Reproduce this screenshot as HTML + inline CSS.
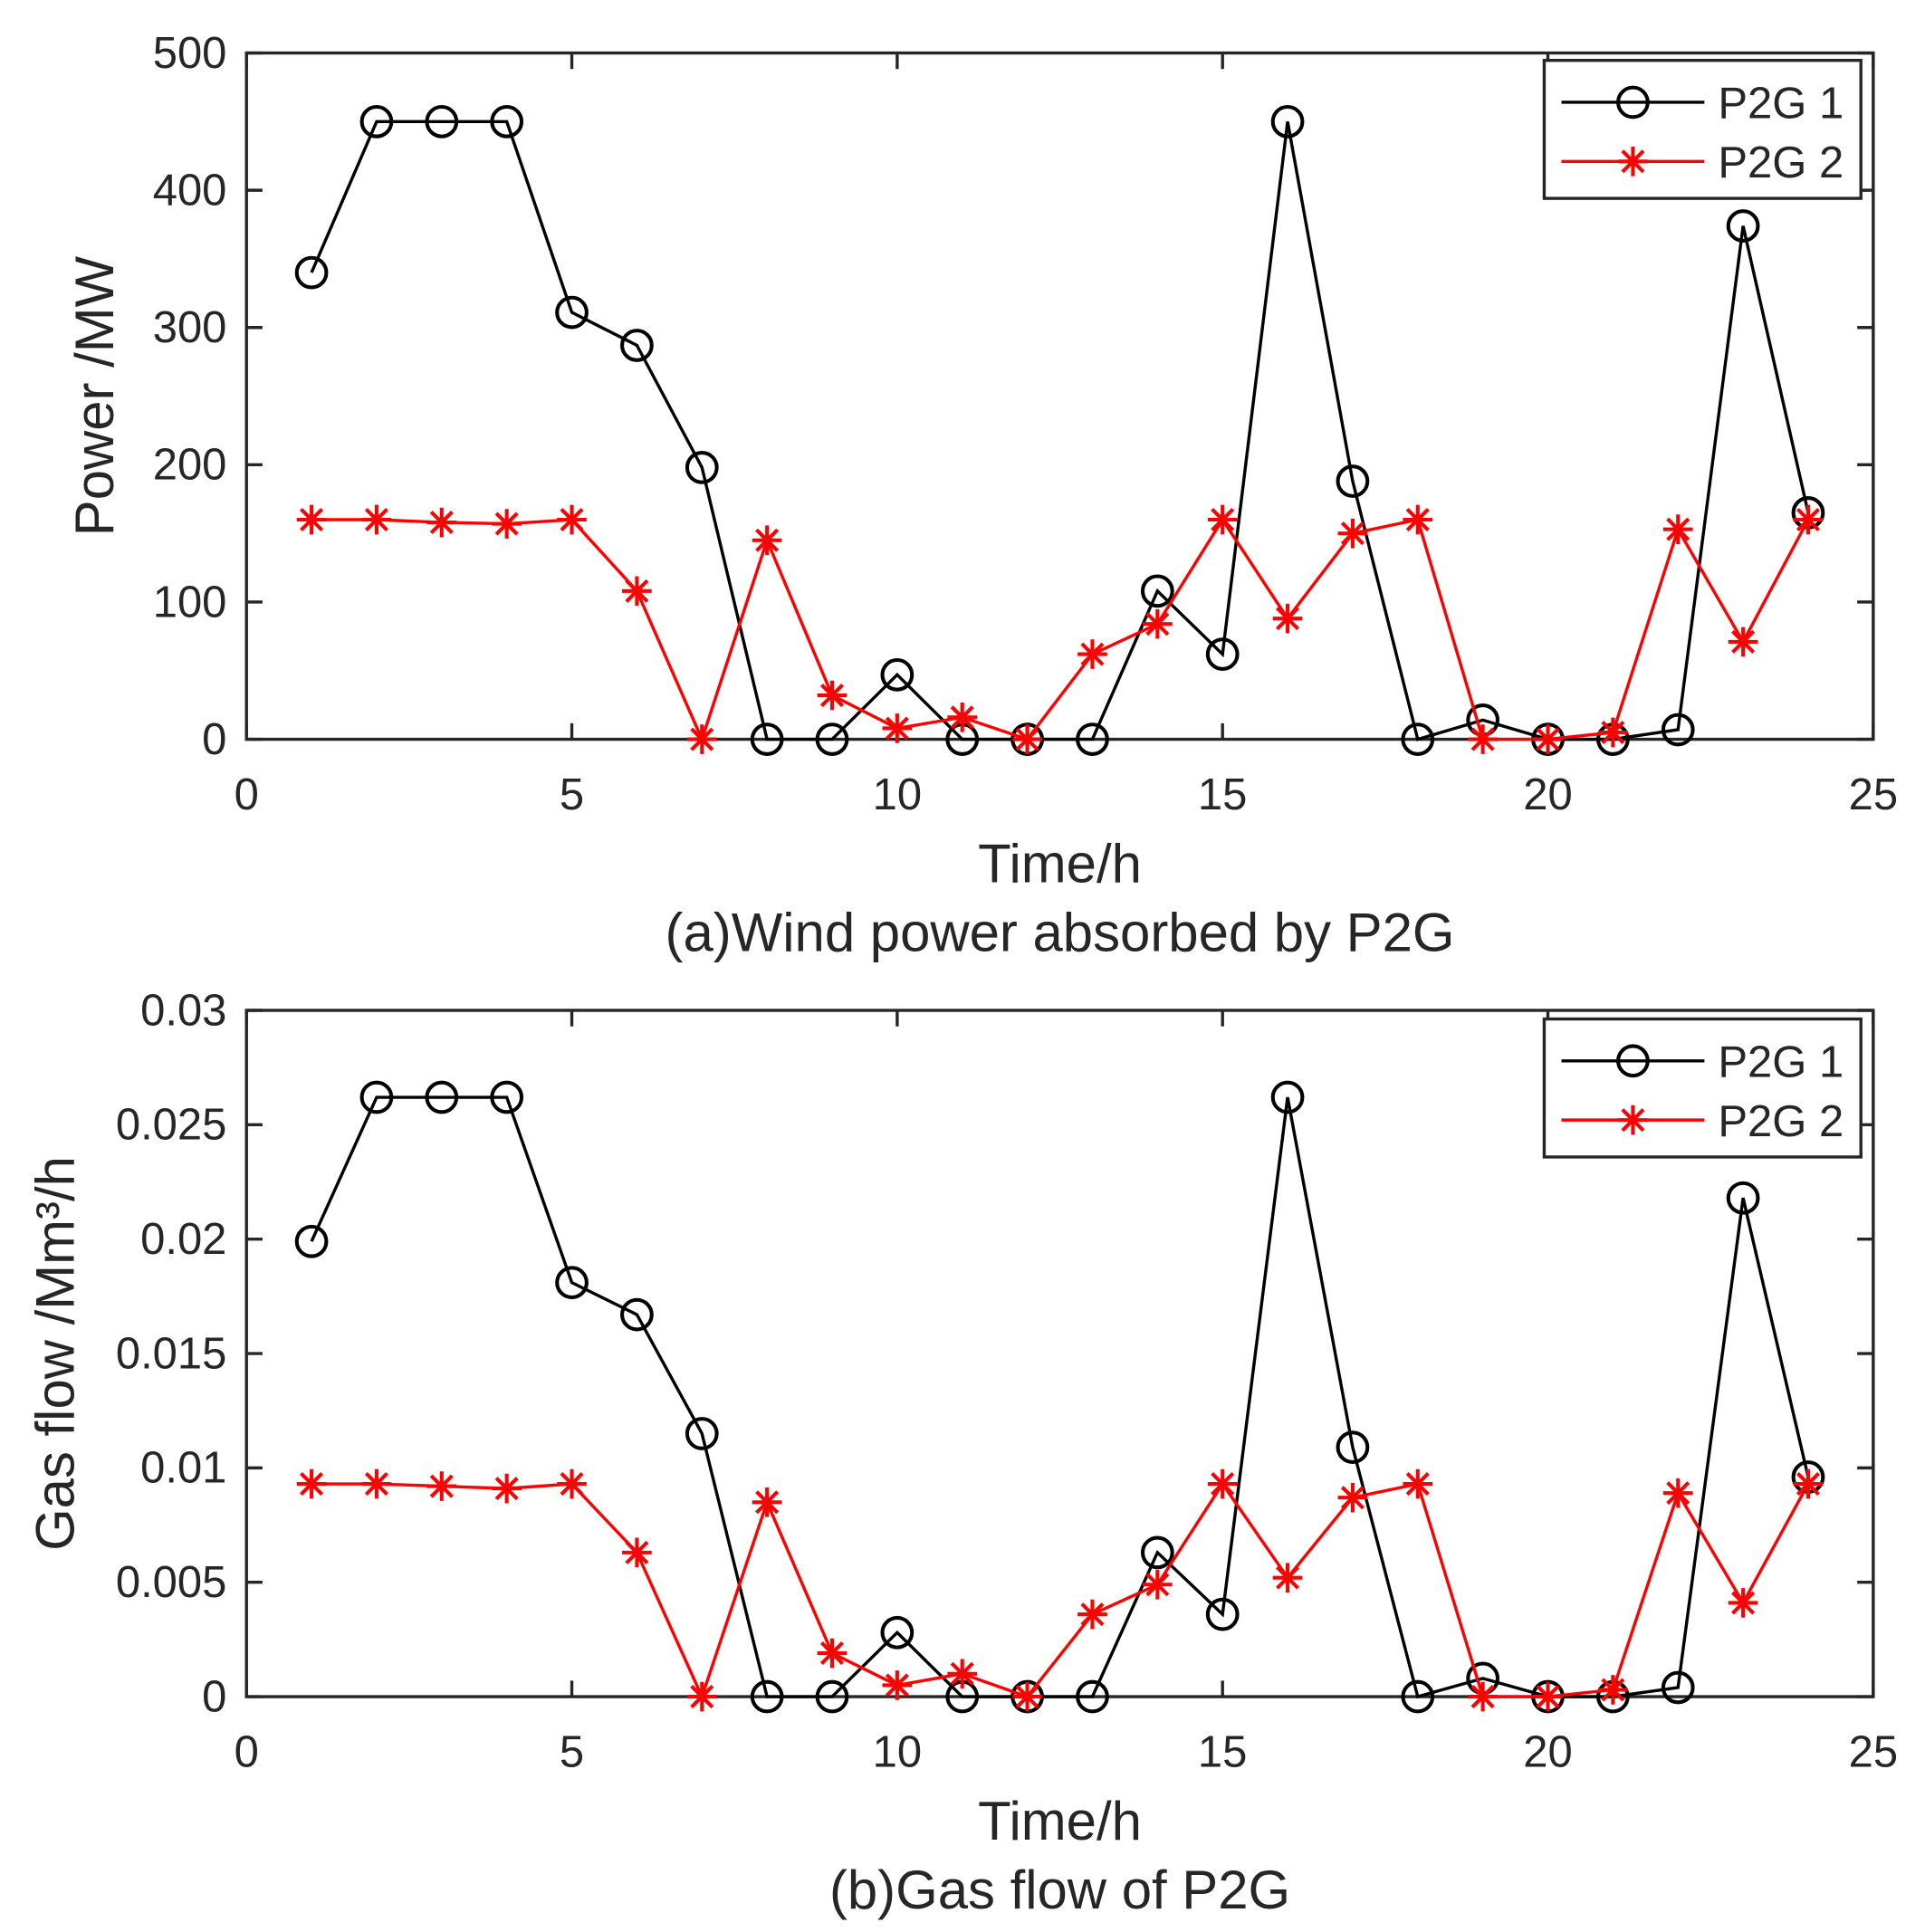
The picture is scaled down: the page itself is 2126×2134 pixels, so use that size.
<!DOCTYPE html>
<html><head><meta charset="utf-8">
<style>
html,body{margin:0;padding:0;background:#fff;}
svg{display:block;}
text{font-family:"Liberation Sans",sans-serif;fill:#262626;}
</style></head>
<body>
<svg id="fig" width="2126" height="2134" viewBox="0 0 1562 1568" preserveAspectRatio="none" xmlns="http://www.w3.org/2000/svg"></svg>
<script>
const hours = [1,2,3,4,5,6,7,8,9,10,11,12,13,14,15,16,17,18,19,20,21,22,23,24];
const p2g1Power = [340,450,450,450,311,287,198,0,0,47,0,0,0,108,62,450,188,0,14,0,0,7,374,165];
const p2g2Power = [160,160,158,157,160,108,0,145,32,8,16,0,62,84,160,88,150,160,0,0,5,153,71,160];
const p2g1Gas = [0.0199,0.0262,0.0262,0.0262,0.0181,0.0167,0.0115,0,0,0.0028,0,0,0,0.0063,0.0036,0.0262,0.0109,0,0.0008,0,0,0.0004,0.0218,0.0096];
const p2g2Gas = [0.0093,0.0093,0.0092,0.0091,0.0093,0.0063,0,0.0085,0.0019,0.0005,0.001,0,0.0036,0.0049,0.0093,0.0052,0.0087,0.0093,0,0,0.0003,0.0089,0.0041,0.0093];
const xTicks = [0,5,10,15,20,25];
const powerTicks = [0,100,200,300,400,500];
const gasTicks = [0,0.005,0.01,0.015,0.02,0.025,0.03];
const gasTickLabels = ["0","0.005","0.01","0.015","0.02","0.025","0.03"];
const seriesNames = ["P2G 1","P2G 2"];

const NS="http://www.w3.org/2000/svg";
const svg=document.getElementById('fig');
function mk(tag,attrs,parent){const e=document.createElementNS(NS,tag);for(const k in attrs)e.setAttribute(k,attrs[k]);(parent||svg).appendChild(e);return e;}

function panel(name,top,bottom,yMax,yTicks,yLabels,s1,s2,yTitle,caption,legTop,yTitleX){
  const L=200,R=1520;
  const g=mk('g',{});
  
  
  const xs=v=>L+(v/25)*(R-L);
  const ys=v=>bottom-(v/yMax)*(bottom-top);
  const frame=mk('rect',{x:L,y:top,width:R-L,height:bottom-top,fill:'none',stroke:'#262626','stroke-width':2.5},g);
  
  
  xTicks.forEach(t=>{
    const x=xs(t);
    mk('line',{x1:x,y1:bottom,x2:x,y2:bottom-13,stroke:'#262626','stroke-width':2.5},g);
    mk('line',{x1:x,y1:top,x2:x,y2:top+13,stroke:'#262626','stroke-width':2.5},g);
    const tx=mk('text',{x:x,y:bottom+57,'font-size':36,'text-anchor':'middle'},g);
    tx.textContent=t;
    
    
  });
  yTicks.forEach((t,i)=>{
    const y=ys(t);
    mk('line',{x1:L,y1:y,x2:L+13,y2:y,stroke:'#262626','stroke-width':2.5},g);
    mk('line',{x1:R,y1:y,x2:R-13,y2:y,stroke:'#262626','stroke-width':2.5},g);
    const tx=mk('text',{x:L-16,y:y+12,'font-size':36,'text-anchor':'end'},g);
    tx.textContent=yLabels[i];
    
    
  });
  const xt=mk('text',{x:860,y:bottom+116,'font-size':44,'text-anchor':'middle'},g);
  xt.textContent='Time/h';
  
  
  const yt=mk('text',{x:0,y:0,'font-size':44,'text-anchor':'middle',transform:`translate(${yTitleX},${(top+bottom)/2}) rotate(-90)`},g);
  yt.textContent=yTitle;
  
  
  const cp=mk('text',{x:860,y:bottom+172,'font-size':44,'text-anchor':'middle'},g);
  cp.textContent=caption;
  
  

  function circle(x,y,par){return mk('circle',{cx:x,cy:y,r:12,fill:'none',stroke:'#000','stroke-width':3},par);}
  function star(x,y,par){return mk('path',{d:`M${x-12},${y}H${x+12}M${x},${y-12}V${y+12}M${x-8.5},${y-8.5}L${x+8.5},${y+8.5}M${x-8.5},${y+8.5}L${x+8.5},${y-8.5}`,stroke:'#f00','stroke-width':3,fill:'none'},par);}

  [[s1,'#000',circle,'series-p2g1'],[s2,'#f00',star,'series-p2g2']].forEach(([data,col,marker,nm])=>{
    const sg=mk('g',{},g);
    
    
    const pts=hours.map((h,i)=>xs(h)+','+ys(data[i])).join(' ');
    const pl=mk('polyline',{points:pts,fill:'none',stroke:col,'stroke-width':2.5},sg);
    
    
    hours.forEach((h,i)=>{
      const m=marker(xs(h),ys(data[i]),sg);
      
      
    });
  });

  const lg=mk('g',{},g);
  
  
  mk('rect',{x:1253,y:legTop,width:257,height:112,fill:'#fff',stroke:'#262626','stroke-width':2.5},lg);
  [['#000',circle],['#f00',star]].forEach(([col,marker],i)=>{
    const y=legTop+34+i*48;
    mk('line',{x1:1267,y1:y,x2:1383,y2:y,stroke:col,'stroke-width':2.5},lg);
    marker(1325,y,lg);
    const t=mk('text',{x:1394,y:y+13,'font-size':36},lg);
    t.textContent=seriesNames[i];
    
    
  });
}
panel('panel-a',43,600,500,powerTicks,powerTicks.map(String),p2g1Power,p2g2Power,'Power /MW','(a)Wind power absorbed by P2G',49,92);
panel('panel-b',820,1377,0.03,gasTicks,gasTickLabels,p2g1Gas,p2g2Gas,'Gas flow /Mm³/h','(b)Gas flow of P2G',827,60);
</script>
</body></html>
